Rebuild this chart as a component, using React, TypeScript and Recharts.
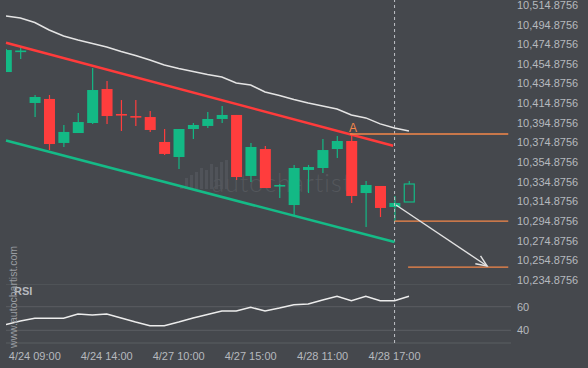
import React from "react";
import { ComposedChart, Bar, Line, XAxis, YAxis, ReferenceLine, ReferenceDot, CartesianGrid } from "recharts";

// hourly bars, last one is the projected (hollow) candle
const times = [
  "4/24 07:00", "4/24 08:00", "4/24 09:00", "4/24 10:00", "4/24 11:00", "4/24 12:00", "4/24 13:00",
  "4/24 14:00", "4/24 15:00", "4/24 16:00", "4/27 08:00", "4/27 09:00", "4/27 10:00", "4/27 11:00",
  "4/27 12:00", "4/27 13:00", "4/27 14:00", "4/27 15:00", "4/27 16:00", "4/28 08:00", "4/28 09:00",
  "4/28 10:00", "4/28 11:00", "4/28 13:00", "4/28 14:00", "4/28 15:00", "4/28 16:00", "4/28 17:00",
  "4/28 18:00",
];
const opens = [
  10445.6, 10467.0, 10414.1, 10418.2, 10373.4, 10383.5, 10393.7, 10428.3, 10402.9, 10400.8,
  10399.8, 10374.4, 10359.1, 10387.6, 10390.7, 10397.8, 10401.9, 10339.8, 10367.2, 10330.1,
  10310.2, 10345.9, 10347.9, 10367.2, 10375.4, 10322.4, 10329.6, 10308.2, 10313.3,
];
const highs = [
  10469.1, 10471.1, 10422.2, 10422.2, 10391.7, 10403.9, 10449.7, 10436.5, 10417.1, 10417.1,
  10405.9, 10387.6, 10387.6, 10393.7, 10404.9, 10411.0, 10401.9, 10373.4, 10370.3, 10331.6,
  10351.0, 10351.0, 10377.4, 10380.5, 10383.5, 10334.7, 10329.6, 10319.4, 10334.7,
];
const lows = [
  10445.6, 10458.9, 10399.8, 10366.2, 10369.3, 10383.5, 10392.7, 10392.7, 10385.6, 10390.7,
  10384.6, 10361.1, 10346.9, 10377.4, 10388.6, 10393.7, 10335.7, 10333.6, 10327.5, 10317.4,
  10300.0, 10322.4, 10342.8, 10358.1, 10312.3, 10287.8, 10298.0, 10293.9, 10313.3,
];
const closes = [
  10468.0, 10467.5, 10420.2, 10372.3, 10384.6, 10394.7, 10427.3, 10400.8, 10402.4, 10400.3,
  10386.6, 10362.2, 10387.6, 10391.7, 10397.8, 10401.9, 10338.7, 10369.3, 10327.5, 10330.6,
  10347.9, 10348.9, 10366.2, 10375.4, 10319.4, 10330.6, 10307.2, 10312.3, 10331.6,
];
const upperBand = [
  10502.7, 10500.6, 10496.0, 10488.4, 10482.3, 10478.2, 10474.7, 10471.1, 10466.5, 10462.4,
  10457.9, 10452.8, 10449.2, 10446.2, 10443.1, 10440.6, 10434.5, 10432.4, 10425.3, 10421.8,
  10417.7, 10414.1, 10411.1, 10408.0, 10401.9, 10398.9, 10392.8, 10388.7, 10385.6,
];
const rsi = [
  44.9, 47.9, 50.2, 50.2, 50.2, 53.8, 53.0, 53.8, 50.4, 47.0,
  43.9, 43.9, 47.0, 50.4, 53.4, 56.4, 56.4, 59.5, 56.4, 58.9,
  61.7, 62.3, 65.7, 68.8, 65.1, 68.8, 65.1, 65.1, 68.8,
];

const priceTicks = [
  10234.8756, 10254.8756, 10274.8756, 10294.8756, 10314.8756, 10334.8756, 10354.8756, 10374.8756,
  10394.8756, 10414.8756, 10434.8756, 10454.8756, 10474.8756, 10494.8756, 10514.8756,
];
const rsiTicks = [40, 60];
const timeTicks = [2, 7, 12, 17, 22, 27];

// pattern drawing: channel, target levels, projection arrow
const resistance = [{ x: 0, y: 10475.5 }, { x: 26.9, y: 10370.5 }];
const support = [{ x: 0, y: 10376.0 }, { x: 27, y: 10272.5 }];
const levelA = 10382.5;
const levelEntry = 10293.9;
const levelTarget = 10246.9;
const arrowPts = [{ x: 27.1, y: 10310.2 }, { x: 33.43, y: 10248.1 }];

const data = times.map((t, i) => ({
  idx: i,
  time: t,
  open: opens[i],
  high: highs[i],
  low: lows[i],
  close: closes[i],
  band: upperBand[i],
  rsi: rsi[i],
}));

const BG = "#45484d";
const GREEN = "#13b985";
const RED = "#ff3d3d";
const ORANGE = "#f5874a";
const TXT = "#b6b9be";
const FONT = "'Liberation Sans', Arial, sans-serif";
const X_DOMAIN: [number, number] = [0, 35.09];
const HOLLOW_FROM = 28;
const NOW = 27;

const tickStyle = { fill: TXT, fontSize: 11, fontFamily: FONT };

const Candle = (props: any) => {
  const { x, y, width, height, payload, index } = props;
  const { open, close, high, low } = payload;
  const span = high - low || 1;
  const py = (v: number) => y + ((high - v) / span) * height;
  const color = close >= open ? GREEN : RED;
  const cx = x + width / 2;
  const top = py(Math.max(open, close));
  const bot = py(Math.min(open, close));
  const hollow = index >= HOLLOW_FROM;
  return (
    <g>
      <line x1={cx} x2={cx} y1={y} y2={y + height} stroke={color} strokeWidth={1.2} />
      <rect
        x={hollow ? x + 0.5 : x}
        y={top}
        width={hollow ? width - 1 : width}
        height={Math.max(bot - top, 1.6)}
        fill={hollow ? BG : color}
        stroke={hollow ? color : "none"}
        strokeWidth={1.2}
      />
    </g>
  );
};

const Arrow = (p: any) => {
  const { x1, y1, x2, y2 } = p;
  const a = Math.atan2(y2 - y1, x2 - x1);
  const len = 12;
  const h1 = { x: x2 - len * Math.cos(a - 0.4), y: y2 - len * Math.sin(a - 0.4) };
  const h2 = { x: x2 - len * Math.cos(a + 0.4), y: y2 - len * Math.sin(a + 0.4) };
  return (
    <g stroke="#e2e2e2" strokeWidth={1.4} fill="none">
      <line x1={x1} y1={y1} x2={x2} y2={y2} />
      <polyline points={`${h1.x},${h1.y} ${x2},${y2} ${h2.x},${h2.y}`} />
    </g>
  );
};

const fmtPrice = (v: number) =>
  v.toLocaleString("en-US", { minimumFractionDigits: 4, maximumFractionDigits: 4 });

const wmBars = [186.7, 178, 175, 171.7, 168, 170, 164, 166.7, 161.7, 160];

export default function App() {
  return (
    <div style={{ position: "absolute", left: 0, top: 0, width: 588, height: 368, background: BG, overflow: "hidden" }}>
      {/* watermark */}
      {wmBars.map((t, i) => (
        <div key={i} style={{ position: "absolute", left: 180 + i * 5, top: t, width: 3, height: 189 - t, background: "#505359" }} />
      ))}
      <div style={{ position: "absolute", left: 212, top: 167, fontFamily: "Lato, sans-serif", fontWeight: 300, fontSize: 25, letterSpacing: 1, color: "#54575c" }}>
        autochartist
      </div>

      {/* price panel: svg is 12px taller than the plot so the lowest tick label isn't clipped */}
      <div style={{ position: "absolute", left: 0, top: 0 }}>
        <ComposedChart width={588} height={296} data={data} margin={{ top: 0, right: 0, left: 6, bottom: 12 }}>
          <XAxis dataKey="idx" type="number" domain={X_DOMAIN} allowDataOverflow hide height={0} />
          <YAxis
            orientation="right"
            width={77}
            domain={[10229.79, 10518.95]}
            allowDataOverflow
            ticks={priceTicks}
            interval={0}
            tickFormatter={fmtPrice}
            axisLine={false}
            tickLine={false}
            tickMargin={0}
            tick={{ ...tickStyle, dy: 1 }}
          />
          <ReferenceLine x={NOW} stroke="#bfc2c6" strokeDasharray="3 3" strokeWidth={1} />
          <Line dataKey="band" type="linear" stroke="#e4e4e4" strokeWidth={1.5} dot={false} isAnimationActive={false} />
          <ReferenceLine segment={resistance} stroke="#ff3b3b" strokeWidth={2.6} />
          <ReferenceLine segment={support} stroke="#15bb87" strokeWidth={2.6} />
          <Bar dataKey={(d: any) => [d.low, d.high]} barSize={11} shape={Candle} isAnimationActive={false} />
          <ReferenceLine segment={[{ x: 23.9, y: levelA }, { x: 34.9, y: levelA }]} stroke={ORANGE} strokeWidth={1.3} />
          <ReferenceLine segment={[{ x: NOW, y: levelEntry }, { x: 34.9, y: levelEntry }]} stroke={ORANGE} strokeWidth={1.3} />
          <ReferenceLine segment={[{ x: 27.94, y: levelTarget }, { x: 34.9, y: levelTarget }]} stroke={ORANGE} strokeWidth={1.3} />
          <ReferenceLine segment={arrowPts} shape={Arrow} />
          <ReferenceDot
            x={24.11}
            y={levelA}
            r={0}
            fill="none"
            stroke="none"
            label={{ value: "A", position: "top", offset: 2, fill: ORANGE, fontSize: 12, fontFamily: FONT }}
          />
        </ComposedChart>
      </div>

      <div style={{ position: "absolute", left: 0, top: 284 }}>
        <ComposedChart width={588} height={84} data={data} margin={{ top: 0, right: 0, left: 6, bottom: 0 }}>
          <CartesianGrid vertical={false} stroke="#5b5e63" />
          <XAxis
            dataKey="idx"
            type="number"
            domain={X_DOMAIN}
            allowDataOverflow
            ticks={timeTicks}
            interval={0}
            tickFormatter={(i: number) => times[i]}
            axisLine={false}
            tickLine={false}
            tickMargin={3}
            height={25}
            tick={tickStyle}
          />
          <YAxis
            orientation="right"
            width={77}
            domain={[29.24, 79.24]}
            allowDataOverflow
            ticks={rsiTicks}
            axisLine={false}
            tickLine={false}
            tickMargin={0}
            tick={tickStyle}
          />
          <ReferenceLine x={NOW} stroke="#bfc2c6" strokeDasharray="3 3" strokeWidth={1} />
          <Line dataKey="rsi" type="linear" stroke="#ececec" strokeWidth={1.5} dot={false} isAnimationActive={false} />
        </ComposedChart>
      </div>

      <div style={{ position: "absolute", left: 14, top: 285, fontFamily: FONT, fontWeight: "bold", fontSize: 11, color: TXT }}>RSI</div>
      <div
        style={{
          position: "absolute",
          left: 13,
          top: 297,
          transform: "translate(-50%, -50%) rotate(-90deg)",
          whiteSpace: "nowrap",
          fontFamily: FONT,
          fontSize: 10.5,
          color: "#9a9da2",
        }}
      >
        www.autochartist.com
      </div>
    </div>
  );
}
